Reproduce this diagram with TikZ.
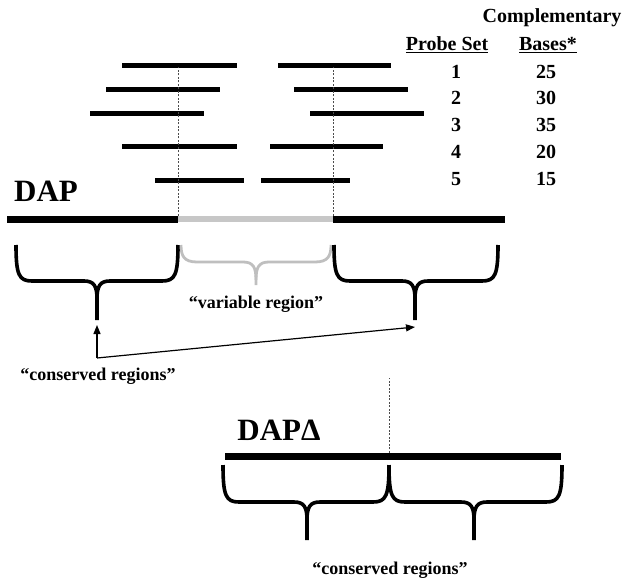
\documentclass[tikz,border=0pt]{standalone}
\usepackage{fontspec}
\setmainfont{Liberation Serif}
\usetikzlibrary{arrows.meta}

% curly brace opening downwards: left x, tip x, right x, top y, middle y, tip y
\newcommand{\curly}[7][]{%
  \draw[curlyline,#1] (#2,#5) .. controls (#2,#6-6) and (#2+3,#6) .. (#2+16,#6)
    -- (#3-13,#6) .. controls (#3-3,#6) and (#3,#6+5) .. (#3,#6+18) -- (#3,#7);
  \draw[curlyline,#1] (#4,#5) .. controls (#4,#6-6) and (#4-3,#6) .. (#4-16,#6)
    -- (#3+13,#6) .. controls (#3+3,#6) and (#3,#6+5) .. (#3,#6+18);
}

\begin{document}
\begin{tikzpicture}[x=1pt,y=-1pt,
        probeBar/.style = {line width=5pt,black},
        mainBar/.style = {line width=7pt,black},
        varBar/.style = {line width=6pt,black!22},
        cutLine/.style = {line width=0.6pt,black!70,dash pattern=on 2pt off 1.5pt},
        curlyline/.style = {line width=3.6pt,black,line join=round},
        pointer/.style = {line width=1.2pt,-{Triangle[length=9pt,width=7pt]}},
        bigLabel/.style = {font=\bfseries\fontsize{31}{33}\selectfont,inner sep=0pt},
        label/.style = {font=\bfseries\fontsize{18}{20}\selectfont,inner sep=0pt},
        tabText/.style = {font=\bfseries\fontsize{20}{22}\selectfont,inner sep=0pt}
        ]
        \useasboundingbox (0,0) rectangle (629,583);

        % table of probe sets
        \node[tabText] (compl) at (552,18) {Complementary};
        \node[tabText] (probeHead) at (447,45) {\underline{Probe Set}};
        \node[tabText] (basesHead) at (548,45) {\underline{Bases*}};
        \node[tabText] (n1) at (456,72) {1};
        \node[tabText] (n2) at (456,98) {2};
        \node[tabText] (n3) at (456,125) {3};
        \node[tabText] (n4) at (456,152) {4};
        \node[tabText] (n5) at (456,179) {5};
        \node[tabText] (b1) at (546,72) {25};
        \node[tabText] (b2) at (546,98) {30};
        \node[tabText] (b3) at (546,125) {35};
        \node[tabText] (b4) at (546,152) {20};
        \node[tabText] (b5) at (546,179) {15};

        % probes
        \draw[probeBar] (122,66) -- (237,66);
        \draw[probeBar] (278,66) -- (391,66);
        \draw[probeBar] (106,90) -- (220,90);
        \draw[probeBar] (294,90) -- (408,90);
        \draw[probeBar] (90,114) -- (204,114);
        \draw[probeBar] (310,114) -- (424,114);
        \draw[probeBar] (122,147) -- (237,147);
        \draw[probeBar] (270,147) -- (383,147);
        \draw[probeBar] (155,180) -- (244,180);
        \draw[probeBar] (261,180) -- (350,180);

        % DAP
        \node[bigLabel] (dap) at (46,191) {DAP};
        \coordinate (dapL) at (7,219);
        \coordinate (cutL) at (178,219);
        \coordinate (cutR) at (333,219);
        \coordinate (dapR) at (505,219);
        \draw[cutLine] (cutL) -- (178,67);
        \draw[cutLine] (cutR) -- (333,67);
        \draw[varBar] (cutL) -- (cutR);
        \draw[mainBar] (dapL) -- (cutL);
        \draw[mainBar] (cutR) -- (dapR);

        \curly{16}{97}{178}{245}{281}{320}
        \curly[black!25,line width=2.8pt]{181}{256}{331}{245}{262}{285}
        \curly{334}{415}{498}{245}{281}{320}

        \node[label] (varText) at (256,304) {“variable region”};
        \node[label] (consText) at (98,376) {“conserved regions”};
        \coordinate (fork) at (97,358);
        \coordinate (tipL) at (97,325);
        \coordinate (tipR) at (415,327);
        \draw[pointer] (fork) -- (tipL);
        \draw[pointer] (fork) -- (tipR);

        % DAP delta
        \node[bigLabel] (dapd) at (279,430) {DAPΔ};
        \coordinate (dapdL) at (225,456);
        \coordinate (cutD) at (389,456);
        \coordinate (dapdR) at (561,456);
        \draw[cutLine] (cutD) -- (389,378);
        \draw[mainBar] (dapdL) -- (dapdR);

        \curly{223}{307}{389}{465}{502}{540}
        \curly{389}{474}{562}{465}{502}{540}

        \node[label] (consText2) at (390,570) {“conserved regions”};
    \end{tikzpicture}
\end{document}
